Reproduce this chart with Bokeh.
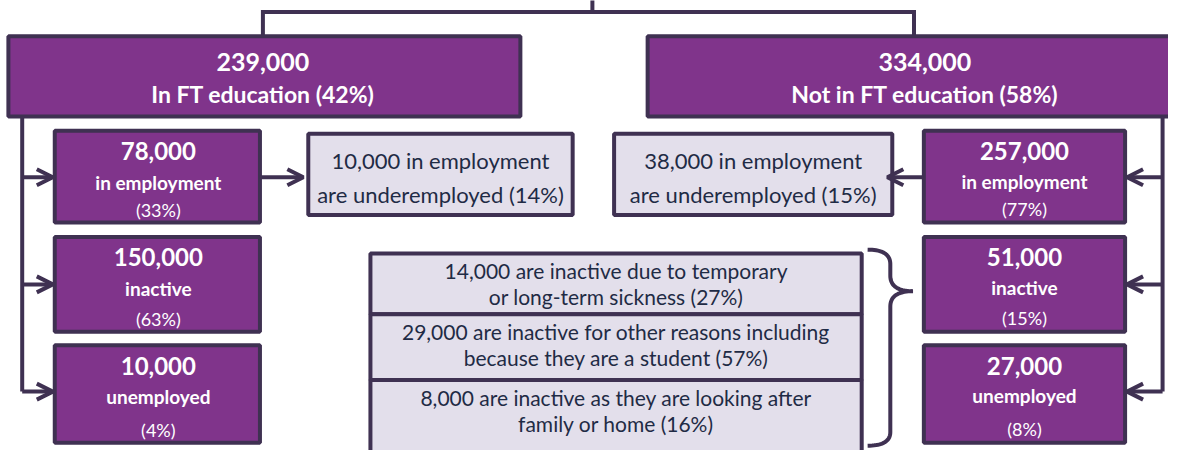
from bokeh.plotting import figure
from bokeh.models import Range1d, Arrow, OpenHead
from bokeh.core.properties import value
from bokeh.embed import file_html
from bokeh.resources import INLINE
import numpy as np

# ---- data ----
group_labels = ["In FT education", "Not in FT education"]
group_totals = ["239,000", "334,000"]
group_pcts = ["42%", "58%"]
statuses = ["in employment", "inactive", "unemployed"]
ft_values = ["78,000", "150,000", "10,000"]
ft_pcts = ["33%", "63%", "4%"]
nft_values = ["257,000", "51,000", "27,000"]
nft_pcts = ["77%", "15%", "8%"]
under_values = ["10,000", "38,000"]
under_pcts = ["14%", "15%"]
inactive_values = ["14,000", "29,000", "8,000"]
inactive_reasons = [
    ("are inactive due to temporary", "or long-term sickness"),
    ("are inactive for other reasons including", "because they are a student"),
    ("are inactive as they are looking after", "family or home"),
]
inactive_pcts = ["27%", "57%", "16%"]

# ---- style ----
PURPLE = "#80348b"
DARK = "#3f3152"
LIGHT = "#e3dfeb"
NAVY = "#1f2b45"
FONT = "Lato"
LW = 4

p = figure(width=1168, height=450, x_range=Range1d(0, 1184), y_range=Range1d(466, 0),
           output_backend="svg", toolbar_location=None, min_border=0)
p.axis.visible = False
p.grid.visible = False
p.outline_line_color = None
p.background_fill_color = "white"


def box(l, r, t, b, fill):
    p.quad(left=[l], right=[r], top=[t], bottom=[b], fill_color=fill,
           line_color=DARK, line_width=LW)


def txt(x, y, s, size, bold=False, color="white"):
    p.text(x=[x], y=[y], text=[s], text_align="center", text_baseline="middle",
           text_font=value(FONT), text_font_size=f"{size}px",
           text_font_style="bold" if bold else "normal", text_color=color)


def seg(xs, ys):
    p.line(x=xs, y=ys, line_color=DARK, line_width=LW, line_join="miter")


def arrow(x0, y0, x1, y1):
    p.add_layout(Arrow(end=OpenHead(size=16, line_color=DARK, line_width=LW),
                       x_start=x0, y_start=y0, x_end=x1, y_end=y1,
                       line_color=DARK, line_width=LW))


# connectors from the top
seg([600, 600], [-5, 12])
seg([266, 266, 926, 926], [37, 12, 12, 37])

# group boxes
gx = [(8, 527, 266), (656, 1200, 937)]
for (l, r, cx), tot, lab, pc in zip(gx, group_totals, group_labels, group_pcts):
    box(l, r, 37, 120, PURPLE)
    txt(cx, 64, tot, 25, True)
    txt(cx, 97, f"{lab} ({pc})", 23, True)

# status boxes
rows = [(135, 230), (245, 343), (357, 458)]
arrow_y = [183, 294, 405]
seg([22, 22], [120, arrow_y[-1]])
seg([1178, 1178], [120, arrow_y[-1]])
for i, (t, b) in enumerate(rows):
    # left
    box(55, 263, t, b, PURPLE)
    txt(160, t + 21, ft_values[i], 24, True)
    txt(160, t + 53, statuses[i], 19, True)
    txt(160, b - 13, f"({ft_pcts[i]})", 18)
    arrow(22, arrow_y[i], 53, arrow_y[i])
    # right
    box(936, 1140, t, b, PURPLE)
    txt(1038, t + 21, nft_values[i], 24, True)
    txt(1038, t + 52, statuses[i], 19, True)
    txt(1038, b - 14, f"({nft_pcts[i]})", 18)
    arrow(1178, arrow_y[i], 1142, arrow_y[i])

# underemployed boxes
ub = [(312, 580, 446), (622, 904, 763)]
for (l, r, cx), v, pc in zip(ub, under_values, under_pcts):
    box(l, r, 138, 222, LIGHT)
    txt(cx, 166, f"{v} in employment", 22, color=NAVY)
    txt(cx, 201, f"are underemployed ({pc})", 22, color=NAVY)
arrow(263, 183, 307, 183)
arrow(936, 183, 899, 183)

# inactive breakdown
ir = [(262, 325), (325, 393), (393, 490)]
for (t, b), v, (l1, l2), pc in zip(ir, inactive_values, inactive_reasons, inactive_pcts):
    box(375, 873, t, b, LIGHT)
    txt(624, t + 18, f"{v} {l1}", 21, color=NAVY)
    txt(624, t + 45, f"{l2} ({pc})", 21, color=NAVY)


# brace
def qbez(p0, p1, p2, n=20):
    t = np.linspace(0, 1, n)
    x = (1 - t) ** 2 * p0[0] + 2 * (1 - t) * t * p1[0] + t ** 2 * p2[0]
    y = (1 - t) ** 2 * p0[1] + 2 * (1 - t) * t * p1[1] + t ** 2 * p2[1]
    return list(x), list(y)


bx, by = [], []
for pts in [((879, 258), (902, 258), (902, 273)),
            ((902, 273), (902, 285), (902, 285)),
            ((902, 285), (902, 301), (925, 301)),
            ((925, 301), (902, 301), (902, 317)),
            ((902, 317), (902, 447), (902, 447)),
            ((902, 447), (902, 461), (879, 461))]:
    x, y = qbez(*pts)
    bx += x
    by += y
p.line(x=bx, y=by, line_color=DARK, line_width=LW)

open("out.html", "w").write(file_html(p, INLINE))
